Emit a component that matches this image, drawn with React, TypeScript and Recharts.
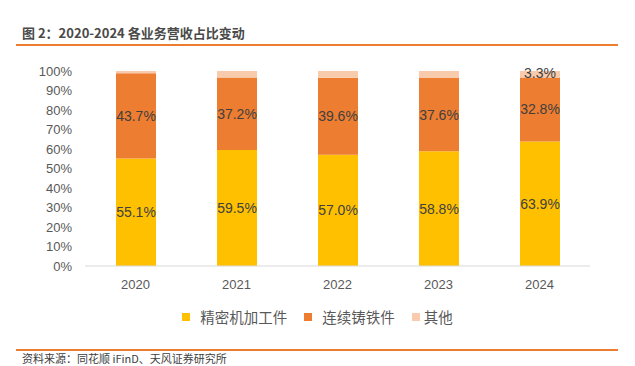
import { BarChart, Bar, XAxis, YAxis, Legend, LabelList } from 'recharts'

const years = ['2020', '2021', '2022', '2023', '2024']
const machined = [55.1, 59.5, 57.0, 58.8, 63.9]
const castIron = [43.7, 37.2, 39.6, 37.6, 32.8]
const other = [1.2, 3.3, 3.4, 3.6, 3.3]
const yTicks = [0, 10, 20, 30, 40, 50, 60, 70, 80, 90, 100]

const seriesNames = ['精密机加工件', '连续铸铁件', '其他']
const colors = ['#FFC000', '#ED7D31', '#F8CBAD']

const chartData = years.map((year, i) => ({
  year,
  machined: machined[i],
  castIron: castIron[i],
  other: other[i],
}))

const font = '"Liberation Sans", "Noto Sans CJK SC", sans-serif'
const cjk = '"Noto Sans CJK SC", sans-serif'

function renderLegend() {
  return (
    <div style={{ display: 'flex', justifyContent: 'center', fontFamily: cjk, fontSize: 14.5, color: '#595959', lineHeight: '20px' }}>
      {seriesNames.map((name, i) => (
        <div key={name} style={{ display: 'flex', alignItems: 'center', marginRight: i < 2 ? 17 : 0 }}>
          <span style={{ width: 8, height: 8, background: colors[i], display: 'inline-block', marginRight: i < 2 ? 10 : 4 }} />
          <span>{name}</span>
        </div>
      ))}
    </div>
  )
}

function otherLabel(props: any) {
  const { x, y, width, height, index, value } = props
  if (index !== years.length - 1) return null
  return (
    <text x={x + width / 2} y={y + height / 2} dy={4} textAnchor='middle' fontSize={14} fill='#404040' fontFamily={font}>
      {`${Number(value).toFixed(1)}%`}
    </text>
  )
}

export default function App() {
  return (
    <div style={{ position: 'absolute', left: 0, top: 0, width: 635, height: 366, background: '#fff' }}>
      <div style={{ position: 'absolute', left: 22, top: 24, fontFamily: cjk, fontWeight: 'bold', fontSize: 13, color: '#4a4a4a', lineHeight: '18px' }}>
        图 2：2020-2024 各业务营收占比变动
      </div>
      <div style={{ position: 'absolute', left: 16, top: 44, width: 602, height: 2, background: '#ED7D31' }} />

      <BarChart width={635} height={340} data={chartData} margin={{ top: 71, right: 45, bottom: 24, left: 15 }}>
        <XAxis
          dataKey='year'
          axisLine={{ stroke: '#D9D9D9' }}
          tickLine={false}
          tick={{ fill: '#595959', fontSize: 13, fontFamily: font }}
          tickMargin={8}
          height={30}
        />
        <YAxis
          domain={[0, 100]}
          ticks={yTicks}
          tickFormatter={(v) => `${v}%`}
          axisLine={false}
          tickLine={false}
          tick={{ fill: '#595959', fontSize: 13, fontFamily: font }}
          tickMargin={7}
          width={70}
          interval={0}
        />
        <Legend content={renderLegend} wrapperStyle={{ position: 'absolute', top: 307, left: 0, width: 635 }} />
        <Bar dataKey='machined' name={seriesNames[0]} stackId='a' fill={colors[0]} barSize={40} isAnimationActive={false}>
          <LabelList dataKey='machined' position='center' formatter={(v: any) => `${Number(v).toFixed(1)}%`} fill='#404040' fontSize={14} fontFamily={font} />
        </Bar>
        <Bar dataKey='castIron' name={seriesNames[1]} stackId='a' fill={colors[1]} barSize={40} isAnimationActive={false}>
          <LabelList dataKey='castIron' position='center' formatter={(v: any) => `${Number(v).toFixed(1)}%`} fill='#404040' fontSize={14} fontFamily={font} />
        </Bar>
        <Bar dataKey='other' name={seriesNames[2]} stackId='a' fill={colors[2]} barSize={40} isAnimationActive={false}>
          <LabelList dataKey='other' content={otherLabel} />
        </Bar>
      </BarChart>

      <div style={{ position: 'absolute', left: 16, top: 349, width: 602, height: 2, background: '#ED7D31' }} />
      <div style={{ position: 'absolute', left: 22, top: 352, fontFamily: cjk, fontSize: 11, color: '#404040', lineHeight: '13px' }}>
        资料来源：同花顺 iFinD、天风证券研究所
      </div>
    </div>
  )
}
